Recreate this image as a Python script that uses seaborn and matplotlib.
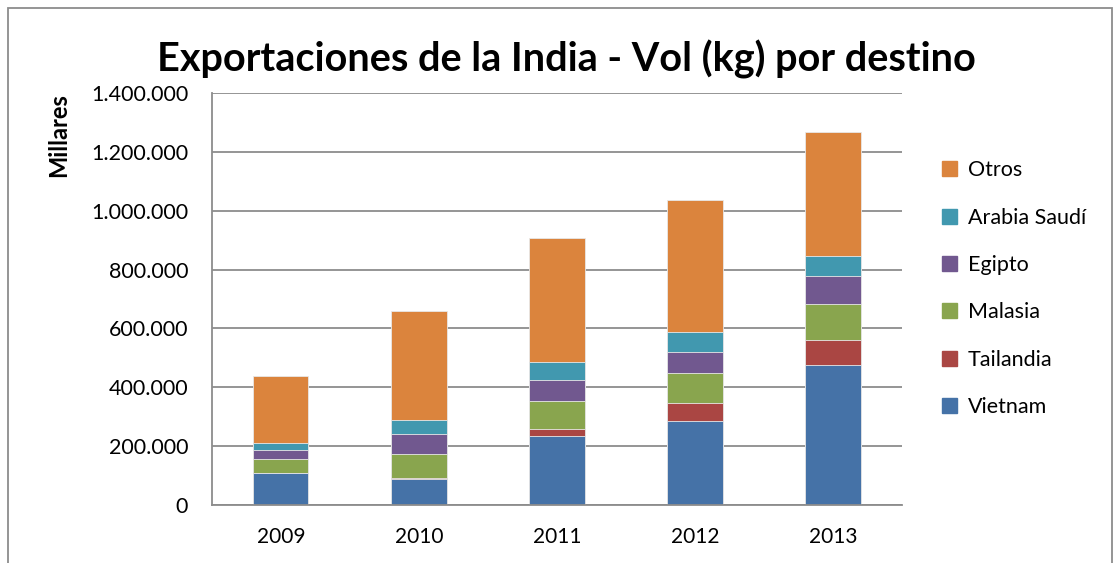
import matplotlib.pyplot as plt
import matplotlib.patches as mpatches
import numpy as np
import pandas as pd
import seaborn as sns
from matplotlib.ticker import FuncFormatter

# Data (thousands of kg)
years = ['2009', '2010', '2011', '2012', '2013']
vietnam = [109, 90, 235, 284, 476]
tailandia = [0, 3, 23, 61, 85]
malasia = [49, 81, 97, 105, 122]
egipto = [28, 68, 70, 69, 94]
arabia = [24, 48, 60, 70, 70]
otros = [227, 368, 423, 448, 420]

series = ['Vietnam', 'Tailandia', 'Malasia', 'Egipto', 'Arabia Saudí', 'Otros']
colors = ['#4572A7', '#AA4643', '#89A54E', '#71588F', '#4198AF', '#DB843D']

df = pd.DataFrame({'year': years, 'Vietnam': vietnam, 'Tailandia': tailandia,
                   'Malasia': malasia, 'Egipto': egipto,
                   'Arabia Saudí': arabia, 'Otros': otros})
df = df.set_index('year')
# values in kg-thousands * 1000 -> axis shows "Millares"
cum = df[series].cumsum(axis=1) * 1000

sns.set_style('white')
plt.rcParams['font.family'] = ['Lato', 'DejaVu Sans']
plt.rcParams['text.color'] = 'black'
plt.rcParams['axes.labelcolor'] = 'black'
plt.rcParams['xtick.color'] = 'black'
plt.rcParams['ytick.color'] = 'black'

fig = plt.figure(figsize=(11.15, 5.63), dpi=100)
ax = fig.add_axes([0.19, 0.103, 0.619, 0.732])

# draw cumulative totals from the top series down so they stack
for name, col in reversed(list(zip(series, colors))):
    sns.barplot(x=cum.index, y=cum[name].values, color=col, width=0.4,
                edgecolor='#e8e8e8', linewidth=0.6, ax=ax, saturation=1)

ax.set_xlim(-0.5, 4.5)
ax.set_ylim(0, 1400000)
ax.set_yticks(np.arange(0, 1400001, 200000))
ax.yaxis.set_major_formatter(FuncFormatter(lambda v, p: f'{int(v):,}'.replace(',', '.')))
ax.yaxis.grid(True, color='#8c8c8c', linewidth=1.3)
ax.set_axisbelow(True)
for s in ['top', 'right']:
    ax.spines[s].set_visible(False)
for s in ['left', 'bottom']:
    ax.spines[s].set_color('#8c8c8c')
    ax.spines[s].set_linewidth(1.3)

ax.set_xticks(np.arange(-0.5, 4.6, 1), minor=True)
ax.tick_params(axis='x', which='major', length=0, labelsize=15, pad=16)
ax.tick_params(axis='x', which='minor', length=7, color='#8c8c8c', width=1.3, direction='out')
ax.tick_params(axis='y', length=7, color='#8c8c8c', width=1.3, direction='out',
               labelsize=15.5, pad=10)
ax.set_xlabel('')
ax.set_ylabel('Millares', loc='top', fontsize=17, fontweight='bold')
ax.yaxis.set_label_coords(-0.205, 1.0)

fig.suptitle('Exportaciones de la India - Vol (kg) por destino', x=0.508, y=0.93,
             fontsize=28.5, fontweight='bold')

handles = [mpatches.Patch(color=c, label=n) for n, c in zip(series, colors)]
ax.legend(handles=handles[::-1], loc='center left', bbox_to_anchor=(1.03, 0.525),
          frameon=False, fontsize=15.5, handlelength=0.7, handleheight=0.7,
          handletextpad=0.5, labelspacing=1.27)

# chart frame
fig.patches.append(mpatches.Rectangle((0.007, -0.05), 0.99, 1.036, transform=fig.transFigure,
                                      fill=False, edgecolor='#8c8c8c', linewidth=1.3))

fig.savefig('out.png', dpi=100)
